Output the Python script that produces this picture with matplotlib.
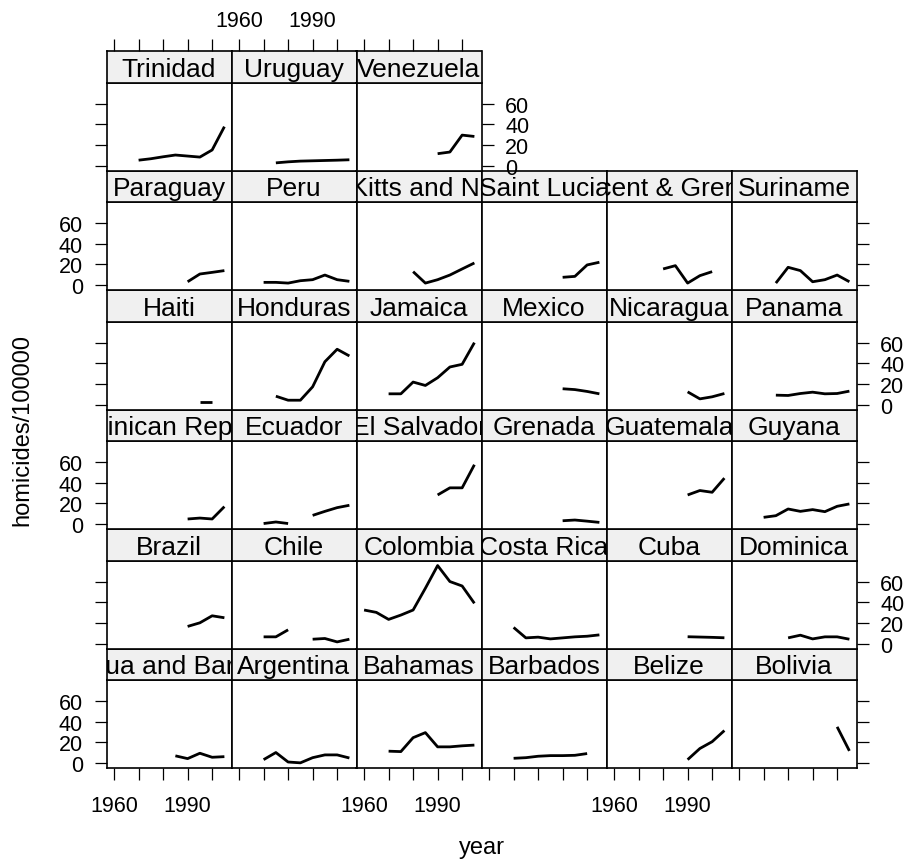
import numpy as np
import matplotlib.pyplot as plt

plt.rcParams['font.family'] = ['Liberation Sans', 'DejaVu Sans']

nan = np.nan
years = [1960, 1965, 1970, 1975, 1980, 1985, 1990, 1995, 2000, 2005]

countries = ['Antigua and Barbuda', 'Argentina', 'Bahamas', 'Barbados', 'Belize', 'Bolivia',
             'Brazil', 'Chile', 'Colombia', 'Costa Rica', 'Cuba', 'Dominica',
             'Dominican Republic', 'Ecuador', 'El Salvador', 'Grenada', 'Guatemala', 'Guyana',
             'Haiti', 'Honduras', 'Jamaica', 'Mexico', 'Nicaragua', 'Panama',
             'Paraguay', 'Peru', 'St. Kitts and Nevis', 'Saint Lucia', 'St. Vincent & Grenadines', 'Suriname',
             'Trinidad', 'Uruguay', 'Venezuela']

# homicides per 100000, one value per 5-year step (nan = no data)
antigua    = [nan, nan, nan, nan, nan, 7.0, 4.3, 9.5, 5.6, 6.2]
argentina  = [nan, nan, 3.3, 10.2, 1.0, 0.2, 5.2, 7.9, 7.9, 4.9]
bahamas    = [nan, nan, 11.5, 11.1, 24.6, 29.5, 15.7, 15.7, 16.7, 17.4]
barbados   = [nan, nan, 4.6, 5.2, 6.6, 7.2, 7.2, 7.5, 9.2, nan]
belize     = [nan, nan, nan, nan, nan, nan, 3.3, 14.1, 20.7, 31.5]
bolivia    = [nan, nan, nan, nan, nan, nan, nan, nan, 35.1, 11.8]
brazil     = [nan, nan, nan, nan, nan, nan, 16.6, 20.1, 26.9, 25.0]
chile      = [nan, nan, 6.5, 6.5, 13.3, nan, 4.2, 4.9, 1.6, 4.2]
colombia   = [32.5, 30.2, 23.4, 27.6, 32.5, 53.6, 75.6, 60.1, 55.8, 39.0]
costa_rica = [nan, nan, 15.6, 5.5, 6.2, 4.5, 5.5, 6.5, 7.1, 8.4]
cuba       = [nan, nan, nan, nan, nan, nan, 6.6, 6.3, 6.0, 5.6]
dominica   = [nan, nan, nan, nan, 5.5, 8.1, 4.5, 6.5, 6.5, 4.2]
dominican  = [nan, nan, nan, nan, nan, nan, 4.9, 5.8, 4.9, 16.9]
ecuador    = [nan, nan, 0.5, 2.0, 0.5, nan, 8.4, 12.3, 15.9, 18.2]
salvador   = [nan, nan, nan, nan, nan, nan, 28.2, 35.1, 35.1, 57.5]
grenada    = [nan, nan, nan, nan, nan, nan, 3.2, 3.9, 2.8, 1.6]
guatemala  = [nan, nan, nan, nan, nan, nan, 28.2, 32.5, 30.8, 44.5]
guyana     = [nan, nan, 6.5, 8.1, 14.6, 12.3, 14.0, 12.0, 17.2, 19.5]
haiti      = [nan, nan, nan, nan, nan, nan, nan, 2.0, 2.0, nan]
honduras   = [nan, nan, nan, 8.1, 4.2, 4.2, 17.2, 41.5, 53.6, 47.1]
jamaica    = [nan, nan, 10.4, 10.4, 21.8, 18.5, 26.0, 36.4, 39.0, 60.0]
mexico     = [nan, nan, nan, nan, nan, nan, 15.3, 14.5, 12.7, 10.4]
nicaragua  = [nan, nan, nan, nan, nan, nan, 12.3, 5.5, 7.5, 10.7]
panama     = [nan, nan, nan, 9.1, 8.8, 10.7, 12.0, 10.4, 10.7, 13.0]
paraguay   = [nan, nan, nan, nan, nan, nan, 3.2, 10.7, 12.3, 14.0]
peru       = [nan, nan, 2.6, 2.6, 1.9, 4.2, 5.2, 9.7, 5.2, 3.6]
st_kitts   = [nan, nan, nan, nan, 13.0, 1.9, 5.2, 9.7, 15.6, 21.4]
st_lucia   = [nan, nan, nan, nan, nan, nan, 7.5, 8.4, 19.5, 22.1]
st_vincent = [nan, nan, nan, nan, 15.6, 18.8, 1.9, 9.1, 13.0, nan]
suriname   = [nan, nan, nan, 1.9, 17.2, 14.0, 3.2, 5.2, 9.7, 3.2]
trinidad   = [nan, nan, 5.2, 6.6, 8.5, 10.2, 9.2, 8.2, 15.1, 37.7]
uruguay    = [nan, nan, nan, 2.6, 3.6, 4.3, 4.6, 4.9, 5.2, 5.6]
venezuela  = [nan, nan, nan, nan, nan, nan, 11.5, 13.1, 29.5, 28.2]

rates = [antigua, argentina, bahamas, barbados, belize, bolivia,
         brazil, chile, colombia, costa_rica, cuba, dominica,
         dominican, ecuador, salvador, grenada, guatemala, guyana,
         haiti, honduras, jamaica, mexico, nicaragua, panama,
         paraguay, peru, st_kitts, st_lucia, st_vincent, suriname,
         trinidad, uruguay, venezuela]

xticks = [1960, 1970, 1980, 1990, 2000]
xlabels = ['1960', '', '', '1990', '']
yticks = [0, 20, 40, 60]

W, H = 908, 862
fig = plt.figure(figsize=(W / 100, H / 100), dpi=100)

ncol = 6
left0, colw = 106.5, 125.0
top0, pitch = 52.0, 119.5
striph, panelh = 31.5, 88.0
tick_len = 8.6

def box(x, y, w, h):
    return [x / W, 1 - (y + h) / H, w / W, h / H]

for i, (name, vals) in enumerate(zip(countries, rates)):
    r, c = i // ncol, i % ncol
    x = left0 + c * colw
    ytop = top0 + (5 - r) * pitch

    ax = fig.add_axes(box(x, ytop + striph, colw, panelh))
    ax.plot(years, vals, color='black', lw=2.0, solid_capstyle='butt')
    ax.set_xlim(1956.9, 2007.9)
    ax.set_ylim(-4.8, 80.5)
    for s in ax.spines.values():
        s.set_linewidth(1.2)

    last_in_row = (c == ncol - 1) or (i == len(countries) - 1)
    ax.set_xticks(xticks)
    ax.set_xticklabels(xlabels)
    ax.set_yticks(yticks)
    ax.tick_params(direction='out', length=tick_len, width=0.9, labelsize=15.5,
                   bottom=(r == 0), labelbottom=(r == 0 and c % 2 == 0),
                   left=(c == 0), labelleft=(c == 0 and r % 2 == 0),
                   right=last_in_row, labelright=(last_in_row and r % 2 == 1),
                   top=False, labeltop=False)
    ax.tick_params(axis='x', pad=11)
    ax.tick_params(axis='y', pad=8.5)

    # strip with the country name
    st = fig.add_axes(box(x, ytop, colw, striph))
    st.set_facecolor('#f0f0f0')
    for s in st.spines.values():
        s.set_linewidth(1.2)
    st.set_xlim(1956.9, 2007.9)
    st.set_ylim(0, 1)
    st.set_yticks([])
    if r == 5:
        st.set_xticks(xticks)
        st.set_xticklabels(xlabels if c == 1 else [''] * 5)
        st.tick_params(direction='out', length=tick_len, width=0.9, labelsize=15.5, pad=5.8,
                       bottom=False, labelbottom=False, top=True, labeltop=True)
    else:
        st.set_xticks([])
    st.text(0.5, 0.21, name, transform=st.transAxes, ha='center', va='baseline',
            fontsize=19, clip_on=True)

fig.text(22 / W, 1 - 430 / H, 'homicides/100000', rotation=90, ha='center', va='center',
         fontsize=17)
fig.text(481.5 / W, 1 - 848 / H, 'year', ha='center', va='center', fontsize=17)

fig.savefig('out.png', dpi=100)
